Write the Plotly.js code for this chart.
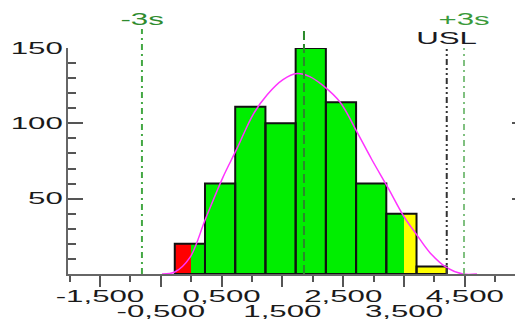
<!DOCTYPE html>
<html>
<head>
<meta charset="utf-8">
<script src="https://cdn.plot.ly/plotly-3.0.1.min.js"></script>
<style>
html, body { margin: 0; padding: 0; overflow: hidden; background: #fff; }
#chart { width: 530px; height: 320px; }
</style>
</head>
<body>
<div id="chart"></div>
<script>
// ---- data ----
const binEdges = [-270, 227, 724, 1221, 1718, 2215, 2712, 3209, 3706, 4203];
const counts = [20, 60, 111, 100, 150, 114, 60, 40, 5];
const redBelow = 0;        // part of a bin below this value is red
const yellowFrom = 3500;   // part of a bin above this value is yellow

const curveX = [-480, -270, -20, 230, 520, 750, 1020, 1250, 1510, 1740, 1950, 2170, 2450, 2730, 2970, 3240, 3500, 3710, 3930, 4210, 4470, 4700];
const curveY = [0, 1.3, 11, 36, 64, 83, 106, 119, 129, 133, 131, 125, 114, 94, 76, 57, 38, 26, 14, 4, 0, 0];

const minus3s = -810;
const meanVal = 1855;
const usl = 4203;
const plus3s = 4487;

const majorTickVals = [-1500, -500, 500, 1500, 2500, 3500, 4500, 5500];
const topTickVals = [-1500, 500, 2500, 4500];
const topTickText = ['-1,500', '0,500', '2,500', '4,500'];
const lowTickVals = [-500, 1500, 3500];
const lowTickText = ['-0,500', '1,500', '3,500'];
const yTickVals = [50, 100, 150];
const yTickText = ['50', '100', '150'];

// ---- build bar segments ----
const seg = { red: {x: [], w: [], y: []}, green: {x: [], w: [], y: []}, yellow: {x: [], w: [], y: []} };
function addSeg(key, a, b, c) {
  if (b - a <= 0) return;
  seg[key].x.push((a + b) / 2); seg[key].w.push(b - a); seg[key].y.push(c);
}
const outX = [], outW = [];
for (let i = 0; i < counts.length; i++) {
  const lo = binEdges[i], hi = binEdges[i + 1], c = counts[i];
  addSeg('red', lo, Math.min(hi, redBelow), c);
  addSeg('green', Math.max(lo, redBelow), Math.min(hi, yellowFrom), c);
  addSeg('yellow', Math.max(lo, yellowFrom), hi, c);
  outX.push((lo + hi) / 2); outW.push(hi - lo);
}
const fills = { red: '#ff0000', green: '#00ee00', yellow: '#ffff00' };
const traces = [];
for (const k of ['red', 'green', 'yellow']) {
  traces.push({ type: 'bar', x: seg[k].x, y: seg[k].y, width: seg[k].w,
    marker: { color: fills[k], line: { width: 0 } }, hoverinfo: 'skip', showlegend: false });
}
traces.push({ type: 'bar', x: outX, y: counts, width: outW,
  marker: { color: 'rgba(0,0,0,0)', line: { color: '#111', width: 2 } }, hoverinfo: 'skip', showlegend: false });
traces.push({ type: 'scatter', mode: 'lines', x: curveX, y: curveY,
  line: { color: '#ff33ff', width: 1.5, shape: 'spline' }, hoverinfo: 'skip', showlegend: false });
traces.push({ type: 'scatter', x: [], y: [], xaxis: 'x2', showlegend: false, hoverinfo: 'skip' });
traces.push({ type: 'scatter', x: [], y: [], xaxis: 'x3', showlegend: false, hoverinfo: 'skip' });

const xr = [-2026, 5523];
const fontFam = 'Liberation Sans, Arial, sans-serif';
const tf = { family: fontFam, size: 16, color: '#1a1a1a' };
const layout = {
  width: 530, height: 320,
  margin: { l: 68, r: 3, t: 48, b: 46 },
  paper_bgcolor: '#fff', plot_bgcolor: '#fff',
  barmode: 'overlay', bargap: 0,
  showlegend: false,
  font: tf,
  xaxis: {
    range: xr, showgrid: false, zeroline: false,
    showline: true, linecolor: '#666', linewidth: 2,
    ticks: 'outside', ticklen: 11, tickwidth: 2, tickcolor: '#555',
    tickmode: 'array', tickvals: majorTickVals, showticklabels: false,
    minor: { tickmode: 'linear', tick0: -1000, dtick: 1000, ticks: 'outside', ticklen: 6, tickwidth: 2, tickcolor: '#555', showgrid: false }
  },
  xaxis3: {
    range: xr, overlaying: 'x', anchor: 'y', side: 'bottom',
    showgrid: false, zeroline: false, showline: false, ticks: '',
    tickmode: 'array', tickvals: topTickVals, ticktext: topTickText,
    ticklabelstandoff: 11, tickfont: tf
  },
  xaxis2: {
    range: xr, overlaying: 'x', anchor: 'y', side: 'bottom',
    showgrid: false, zeroline: false, showline: false, ticks: '',
    tickmode: 'array', tickvals: lowTickVals, ticktext: lowTickText,
    ticklabelstandoff: 26, tickfont: tf
  },
  yaxis: {
    range: [0, 150], showgrid: false, zeroline: false,
    showline: true, linecolor: '#666', linewidth: 2, mirror: 'ticks',
    ticks: 'inside', ticklen: 15, tickwidth: 2, tickcolor: '#555',
    tickmode: 'array', tickvals: yTickVals, ticktext: yTickText,
    tickfont: tf,
    minor: { tickmode: 'linear', tick0: 0, dtick: 10, ticks: 'inside', ticklen: 8, tickwidth: 2, tickcolor: '#555', showgrid: false }
  },
  shapes: [
    { type: 'line', xref: 'x', yref: 'paper', x0: minus3s, x1: minus3s, y0: 0, y1: 1.084, layer: 'above',
      line: { color: '#44a844', width: 2, dash: '6px,4px,2px,4px' } },
    { type: 'line', xref: 'x', yref: 'paper', x0: meanVal, x1: meanVal, y0: 0, y1: 1.084, layer: 'above',
      line: { color: '#2a8a2a', width: 2, dash: '9px,4px' } },
    { type: 'line', xref: 'x', yref: 'paper', x0: usl, x1: usl, y0: 0, y1: 1.0, layer: 'above',
      line: { color: '#333', width: 2, dash: '6px,3px,2px,3px,2px,3px' } },
    { type: 'line', xref: 'x', yref: 'paper', x0: plus3s, x1: plus3s, y0: 0, y1: 1.0, layer: 'above',
      line: { color: '#80c080', width: 2, dash: '6px,4px,2px,4px' } }
  ],
  annotations: [
    { x: minus3s, y: 1.128, xref: 'x', yref: 'paper', text: '-3s', showarrow: false, xanchor: 'center', yanchor: 'middle',
      font: { family: fontFam, size: 16, color: '#2e8b2e' } },
    { x: plus3s, y: 1.124, xref: 'x', yref: 'paper', text: '+3s', showarrow: false, xanchor: 'center', yanchor: 'middle',
      font: { family: fontFam, size: 16, color: '#3a9a3a' } },
    { x: usl, y: 1.044, xref: 'x', yref: 'paper', text: 'USL', showarrow: false, xanchor: 'center', yanchor: 'middle',
      font: { family: fontFam, size: 16, color: '#1a1a22' } }
  ]
};

Plotly.newPlot('chart', traces, layout, { displayModeBar: false, staticPlot: true }).then(function () {
  // the reference text is horizontally stretched; widen glyphs while keeping real text
  document.querySelectorAll('#chart .x2tick text, #chart .x3tick text, #chart .ytick text, #chart .annotation-text').forEach(function (t) {
    const w = t.getComputedTextLength();
    if (w > 0) {
      t.setAttribute('textLength', (w * 1.95).toFixed(1));
      t.setAttribute('lengthAdjust', 'spacingAndGlyphs');
    }
  });
});
</script>
</body>
</html>
